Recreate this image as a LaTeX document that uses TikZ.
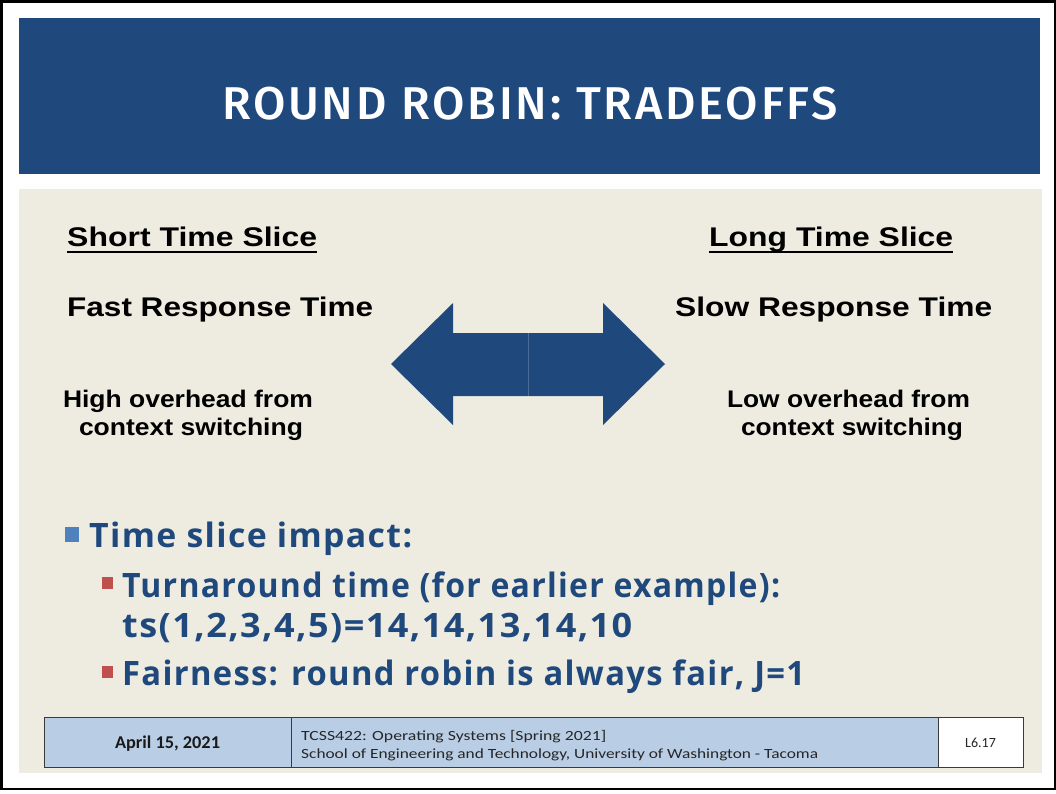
\documentclass[tikz,border=0pt]{standalone}
\usepackage{fontspec}
\usepackage{graphicx}
\setmainfont{Liberation Sans}
\newfontfamily\titlef[LetterSpace=6, UprightFont=* Medium]{Fira Sans}
\newfontfamily\bodyf[LetterSpace=4]{Open Sans}
\newfontfamily\footf{Carlito}
\definecolor{hdr}{HTML}{1F497D}
\definecolor{bg}{HTML}{EEECE1}
\definecolor{bblue}{HTML}{4F81BD}
\definecolor{bred}{HTML}{C0504D}
\definecolor{fblue}{HTML}{B9CDE5}
\definecolor{fborder}{HTML}{3A3A3A}
\definecolor{seam}{HTML}{4A6D98}
\newlength\fitlen
\newcommand\fitto[2]{\settowidth\fitlen{#2}\scalebox{\fpeval{#1/\fitlen}}[1]{#2}}
\tikzset{
  lbl/.style={inner sep=0, text=black, font=\fontsize{27}{32}\selectfont\bfseries},
  ovh/.style={inner sep=0, text=black, font=\fontsize{24}{28}\selectfont\bfseries, anchor=base},
  ul/.style={line width=2.4pt, black},
  bul/.style={inner sep=0, anchor=base west, text=hdr, font=\bodyf\fontsize{33.6}{40}\selectfont\bfseries},
  cell/.style={draw=fborder, line width=1.2pt, inner sep=0, anchor=north west, minimum height=50pt},
  ftxt/.style={inner sep=0, anchor=base west, text=black!85, font=\footf\fontsize{14}{18}\selectfont}
}
\begin{document}
\begin{tikzpicture}[x=1pt,y=-1pt]
\useasboundingbox (0,0) rectangle (1056,793);
\fill[white] (0,0) rectangle (1056,793);
\draw[black, line width=2.5pt] (1.25,1.25) rectangle (1054.75,789);
% header
\fill[hdr] (19,18) rectangle (1040,174);
\node[anchor=base, inner sep=0, text=white, font=\titlef\fontsize{46}{52}\selectfont] (title) at (530,119) {\fitto{616pt}{ROUND ROBIN: TRADEOFFS}};
% body background
\fill[bg] (19,189) rectangle (1042,773);
% left column
\node[lbl, anchor=base west] (sts) at (67,246) {\fitto{250pt}{Short Time Slice}};
\draw[ul] ([yshift=-6pt]sts.base west) -- ([yshift=-6pt]sts.base east);
\node[lbl, anchor=base west] (frt) at (67,316) {\fitto{306pt}{Fast Response Time}};
\node[ovh] (hi1) at (188,407) {\fitto{250pt}{High overhead from}};
\node[ovh] (hi2) at (191,435) {\fitto{224pt}{context switching}};
% right column
\node[lbl, anchor=base west] (lts) at (709,246) {\fitto{244pt}{Long Time Slice}};
\draw[ul] ([yshift=-6pt]lts.base west) -- ([yshift=-6pt]lts.base east);
\node[lbl, anchor=base west] (srt) at (675,316) {\fitto{317pt}{Slow Response Time}};
\node[ovh] (lo1) at (848.5,407) {\fitto{243pt}{Low overhead from}};
\node[ovh] (lo2) at (852,435) {\fitto{222pt}{context switching}};
% double arrow
\fill[hdr] (391,364) -- (453,303) -- (453,333) -- (603,333) -- (603,303) -- (665,364)
  -- (603,425) -- (603,396) -- (453,396) -- (453,425) -- cycle;
\draw[seam, line width=0.8pt] (528,333) -- (528,396);
% bullets
\fill[bblue] (65,527) rectangle (79,542);
\node[bul] (t1) at (89,547) {\fitto{323pt}{Time slice impact:}};
\fill[bred] (102,577) rectangle (113,589);
\node[bul] (t2) at (122,597) {\fitto{658pt}{Turnaround time (for earlier example):}};
\node[bul] (t3) at (122,637) {\fitto{510pt}{ts(1,2,3,4,5)=14,14,13,14,10}};
\fill[bred] (102,666) rectangle (113,678);
\node[bul] (t4) at (122,685) {\fitto{683pt}{Fairness: round robin is always fair, J=1}};
% footer
\node[cell, fill=fblue, minimum width=247pt] (c1) at (44,717) {};
\node[cell, fill=fblue, minimum width=647pt] (c2) at (291,717) {};
\node[cell, fill=white, minimum width=85pt] (c3) at (938,717) {};
\node[inner sep=0, anchor=base, text=black!90, font=\footf\fontsize{18}{20}\selectfont\bfseries] (date) at (167.5,748) {\fitto{105pt}{April 15, 2021}};
\node[ftxt] (course) at (301,740) {\fitto{305pt}{TCSS422: Operating Systems [Spring 2021]}};
\node[ftxt] (school) at (301,758) {\fitto{517pt}{School of Engineering and Technology, University of Washington - Tacoma}};
\node[inner sep=0, anchor=base, text=black!85, font=\footf\fontsize{14}{18}\selectfont] (page) at (980.5,747) {L6.17};
\end{tikzpicture}
\end{document}
